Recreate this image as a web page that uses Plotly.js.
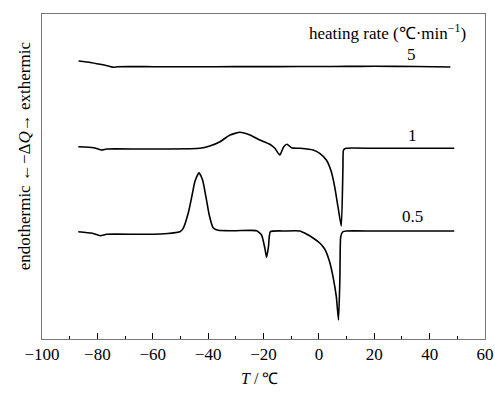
<!DOCTYPE html>
<html><head><meta charset="utf-8">
<script src="https://cdn.plot.ly/plotly-3.0.1.min.js"></script>
<style>html,body{margin:0;padding:0;background:#fff}#chart{width:495px;height:393px}</style>
</head><body><div id="chart"></div>
<script>
// Temperature (°C) and signal (arbitrary units, larger value = lower on plot)
const t5 = [-86.8, -82.5, -79.0, -76.0, -74.2, -72.5, -60, -45, -30, -15, 0, 10, 20, 35, 47.5];
const q5 = [61.0, 62.5, 64.3, 66.0, 67.3, 66.7, 66.7, 66.8, 66.6, 66.6, 66.5, 66.4, 66.3, 66.5, 67.0];

const t1 = [-86.9, -81.4, -78.4, -76.6, -65, -55, -43.0, -39.4, -35.7, -32.1, -28.5, -24.9, -21.3, -17.7, -15.9, -14.1, -12.7, -11.5, -9.9, -6.9, -2.1, 0.3, 2.7, 4.5, 5.7, 6.9, 8.1, 8.7, 8.9, 9.9, 20, 35, 48.9];
const q1 = [146.7, 147.7, 150.0, 149.0, 149.0, 149.0, 148.3, 146.0, 141.7, 135.0, 132.3, 135.0, 140.0, 144.3, 148.3, 155.0, 146.7, 144.3, 147.7, 148.3, 150.0, 153.3, 160.0, 171.7, 186.7, 206.7, 226.0, 166.7, 150.0, 148.3, 148.3, 148.3, 148.3];

const t05 = [-86.9, -81.9, -79.0, -76.6, -65, -57.3, -50.2, -49.0, -47.2, -45.9, -44.8, -43.3, -42.0, -40.8, -39.6, -38.2, -36.4, -30, -22.5, -20.7, -19.5, -18.9, -18.2, -17.5, -12, -6.9, -4.5, -2.1, 0.3, 2.1, 3.9, 5.1, 6.3, 7.1, 7.6, 7.9, 8.7, 9.9, 20, 35, 48.9];
const q05 = [231.7, 233.3, 235.7, 234.3, 234.3, 234.0, 231.7, 228.3, 213.3, 196.7, 181.7, 172.7, 180.0, 196.7, 215.0, 227.7, 230.3, 230.7, 230.7, 235.0, 248.3, 257.3, 246.7, 231.7, 231.0, 231.0, 234.0, 238.0, 243.0, 249.0, 262.0, 276.7, 296.7, 320.0, 276.7, 236.7, 231.7, 231.0, 231.0, 231.0, 231.0];

const rateLabels = ["5", "1", "0.5"];
const rateLabelT = [33.3, 33.8, 33.8];
const rateLabelQ = [54, 135, 216.7];

const serif = "Liberation Serif, Times New Roman, serif";
const lineStyle = {color: "#000", width: 1.6, shape: "spline", smoothing: 0.5};

const traces = [
  {x: t5, y: q5, mode: "lines", line: lineStyle, name: "5", showlegend: false},
  {x: t1, y: q1, mode: "lines", line: lineStyle, name: "1", showlegend: false},
  {x: t05, y: q05, mode: "lines", line: lineStyle, name: "0.5", showlegend: false}
];

const annotations = rateLabels.map((s, i) => ({
  x: rateLabelT[i], y: rateLabelQ[i], xref: "x", yref: "y", text: s, showarrow: false,
  font: {family: serif, size: 17, color: "#000"}, xanchor: "center", yanchor: "middle"
}));
annotations.push({
  x: 0.781, y: 0.945, xref: "paper", yref: "paper", text: "heating rate (℃·min<sup>−1</sup>)",
  showarrow: false, font: {family: serif, size: 17, color: "#000"}, xanchor: "center", yanchor: "middle"
});
annotations.push({
  x: -0.04, y: 0.563, xref: "paper", yref: "paper", textangle: -90,
  text: "endothermic ←−Δ<i>Q</i>→ exthermic",
  showarrow: false, font: {family: serif, size: 17, color: "#000"}, xanchor: "center", yanchor: "middle"
});
annotations.push({
  x: 0.492, y: -0.123, xref: "paper", yref: "paper", text: "<i>T</i> / ℃",
  showarrow: false, font: {family: serif, size: 16, color: "#000"}, xanchor: "center", yanchor: "middle"
});

const layout = {
  width: 495, height: 393,
  margin: {l: 42, r: 10, t: 14, b: 54},
  paper_bgcolor: "#fff", plot_bgcolor: "#fff",
  xaxis: {
    range: [-100, 60], tickmode: "linear", tick0: -100, dtick: 20,
    ticks: "inside", ticklen: 6, tickwidth: 1, tickcolor: "#000",
    minor: {dtick: 10, ticks: "inside", ticklen: 3, tickcolor: "#000", showgrid: false},
    showgrid: false, zeroline: false, showline: true, mirror: true, linecolor: "#777", linewidth: 1,
    tickfont: {family: serif, size: 17, color: "#000"}
  },
  yaxis: {
    range: [339, 14], showticklabels: false, ticks: "", showgrid: false, zeroline: false,
    showline: true, mirror: true, linecolor: "#777", linewidth: 1
  },
  annotations: annotations
};

Plotly.newPlot("chart", traces, layout, {staticPlot: true, displayModeBar: false});
</script></body></html>
